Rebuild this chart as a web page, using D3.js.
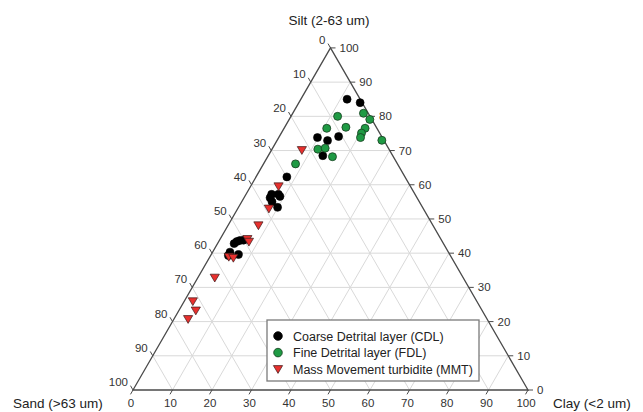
<!DOCTYPE html>
<html>
<head>
<meta charset="utf-8">
<script src="https://cdn.jsdelivr.net/npm/d3@7"></script>
<style>
	body{margin:0;background:#fff;}
	svg{display:block;font-family:"Liberation Sans",Arial,sans-serif;}
</style>
</head>
<body>
<div id="chart"></div>
<script>
//Tick values shared by the three axes
const ticks = [0,10,20,30,40,50,60,70,80,90,100];

//Coarse Detrital layer (CDL) - sand / silt / clay in %
const cdlSand = [3.3,0.5,16.4,10.9,14.3,17.7,29.9,36.3,34.6,37.2,37.3,34.5,36.7,53.0,52.0,51.1,50.1,55.3,53.5,56.2];
const cdlSilt = [85.0,84.0,73.8,74.1,72.9,68.5,62.3,57.2,57.2,56.2,55.0,56.6,53.4,42.8,43.4,43.7,43.8,40.3,39.6,39.3];
const cdlClay = [11.7,15.5,9.8,15.0,12.8,13.8,7.8,6.5,8.2,6.6,7.7,8.9,9.9,4.2,4.6,5.2,6.1,4.4,6.9,4.5];

//Fine Detrital layer (FDL)
const fdlSand = [8.2,1.2,0.5,7.7,12.7,3.0,4.6,5.5,0.5,18.0,16.0,15.4,25.8];
const fdlSilt = [80.0,80.9,79.1,76.8,76.5,76.5,75.1,73.8,73.0,70.4,70.7,68.2,66.1];
const fdlClay = [11.8,17.9,20.4,15.5,10.8,20.5,20.3,20.7,26.5,11.6,13.3,16.4,8.1];

//Mass Movement turbidite (MMT)
const mmtSand = [22.2,33.4,39.1,44.2,49.0,49.0,56.3,55.3,62.9,71.9,72.5,75.7];
const mmtSilt = [70.1,59.5,53.0,48.1,44.1,43.3,38.9,38.6,32.8,25.9,23.2,20.7];
const mmtClay = [7.7,7.1,7.9,7.7,6.9,7.7,4.8,6.1,4.3,2.2,4.3,3.6];

const seriesNames = ['Coarse Detrital layer (CDL)','Fine Detrital layer (FDL)','Mass Movement turbidite (MMT)'];

const width = 643, height = 412;
const x0 = 133, y0 = 390; //sand corner
const side = d3.scaleLinear().domain([0,100]).range([0,395]);
const s3 = Math.sqrt(3)/2;

//ternary -> pixel
function project(sand, silt, clay){
	return [x0 + side(clay) + side(silt)/2, y0 - side(silt)*s3];
}

const svg = d3.select('#chart').append('svg')
	.attr('width',width)
	.attr('height',height);

//Grid
const grid = svg.append('g').attr('class','grid')
	.style('stroke','#d9d9d9')
	.style('stroke-width',1)
	.style('fill','none');
const inner = ticks.filter(v => v > 0 && v < 100);
inner.forEach(v => {
	const r = 100 - v;
	[[project(v,r,0), project(v,0,r)],   //sand = v
	 [project(r,v,0), project(0,v,r)],   //silt = v
	 [project(r,0,v), project(0,r,v)]]   //clay = v
	.forEach(([a,b]) => {
		grid.append('line')
			.attr('x1',a[0]).attr('y1',a[1])
			.attr('x2',b[0]).attr('y2',b[1]);
	});
});

//Triangle outline
const A = project(100,0,0), B = project(0,0,100), C = project(0,100,0);
svg.append('path')
	.attr('d',`M${A}L${B}L${C}Z`)
	.style('fill','none')
	.style('stroke','#4a4a4a')
	.style('stroke-width',1.3);

//Axes: ticks + labels
const tickLen = 5;
const axes = svg.append('g').attr('class','axes')
	.style('font-size','11.5px')
	.style('fill','#333');

ticks.forEach(v => {
	//left side: sand
	let p = project(v,100-v,0);
	axes.append('line')
		.attr('x1',p[0]).attr('y1',p[1])
		.attr('x2',p[0]-tickLen*0.5).attr('y2',p[1]-tickLen*s3)
		.style('stroke','#4a4a4a');
	axes.append('text')
		.attr('x',p[0]-5).attr('y',p[1]-4)
		.attr('text-anchor','end')
		.text(v);

	//bottom: clay
	p = project(100-v,0,v);
	axes.append('line')
		.attr('x1',p[0]).attr('y1',p[1])
		.attr('x2',p[0]-tickLen*0.5).attr('y2',p[1]+tickLen*s3)
		.style('stroke','#4a4a4a');
	axes.append('text')
		.attr('x',p[0]-2).attr('y',p[1]+17)
		.attr('text-anchor','middle')
		.text(v);

	//right side: silt
	p = project(0,v,100-v);
	axes.append('line')
		.attr('x1',p[0]).attr('y1',p[1])
		.attr('x2',p[0]+tickLen).attr('y2',p[1])
		.style('stroke','#4a4a4a');
	axes.append('text')
		.attr('x',p[0]+9).attr('y',p[1]+4)
		.text(v);
});

//Axis titles
const titles = svg.append('g')
	.style('font-size','13.5px')
	.style('fill','#222');
titles.append('text').attr('x',329).attr('y',25).attr('text-anchor','middle').text('Silt (2-63 um)');
titles.append('text').attr('x',13).attr('y',408).text('Sand (>63 um)');
titles.append('text').attr('x',553).attr('y',408).text('Clay (<2 um)');

//Data
const toPoints = (sand,silt,clay) => sand.map((d,i) => project(d,silt[i],clay[i]));
const cdl = toPoints(cdlSand,cdlSilt,cdlClay);
const fdl = toPoints(fdlSand,fdlSilt,fdlClay);
const mmt = toPoints(mmtSand,mmtSilt,mmtClay);

const tri = 'M-4.6,-3.6L4.6,-3.6L0,4.2Z';

svg.append('g').selectAll('circle')
	.data(cdl).enter().append('circle')
	.attr('cx',d => d[0]).attr('cy',d => d[1]).attr('r',4)
	.style('fill','#000').style('stroke','#000').style('stroke-width',0.6);

svg.append('g').selectAll('circle')
	.data(fdl).enter().append('circle')
	.attr('cx',d => d[0]).attr('cy',d => d[1]).attr('r',4)
	.style('fill','#1f9a44').style('stroke','#163d1f').style('stroke-width',0.8);

svg.append('g').selectAll('path')
	.data(mmt).enter().append('path')
	.attr('transform',d => `translate(${d[0]},${d[1]})`)
	.attr('d',tri)
	.style('fill','#e8302e').style('stroke','#3a1a1a').style('stroke-width',0.7);

//Legend
const legend = svg.append('g').attr('transform','translate(267,320)');
legend.append('rect')
	.attr('width',212).attr('height',61)
	.style('fill','#fff').style('stroke','#7a7a7a').style('stroke-width',1.3);
const items = legend.selectAll('.item')
	.data(seriesNames).enter().append('g')
	.attr('class','item')
	.attr('transform',(d,i) => `translate(11,${16 + i*16.6})`);
items.each(function(d,i){
	const g = d3.select(this);
	if(i < 2){
		g.append('circle').attr('r',4.3)
			.style('fill', i ? '#1f9a44' : '#000')
			.style('stroke', i ? '#163d1f' : '#000').style('stroke-width',0.8);
	}else{
		g.append('path').attr('d',tri)
			.style('fill','#e8302e').style('stroke','#3a1a1a').style('stroke-width',0.7);
	}
	g.append('text').attr('x',15).attr('y',4.5)
		.style('font-size','12.5px').style('fill','#222')
		.text(d);
});
</script>
</body>
</html>
